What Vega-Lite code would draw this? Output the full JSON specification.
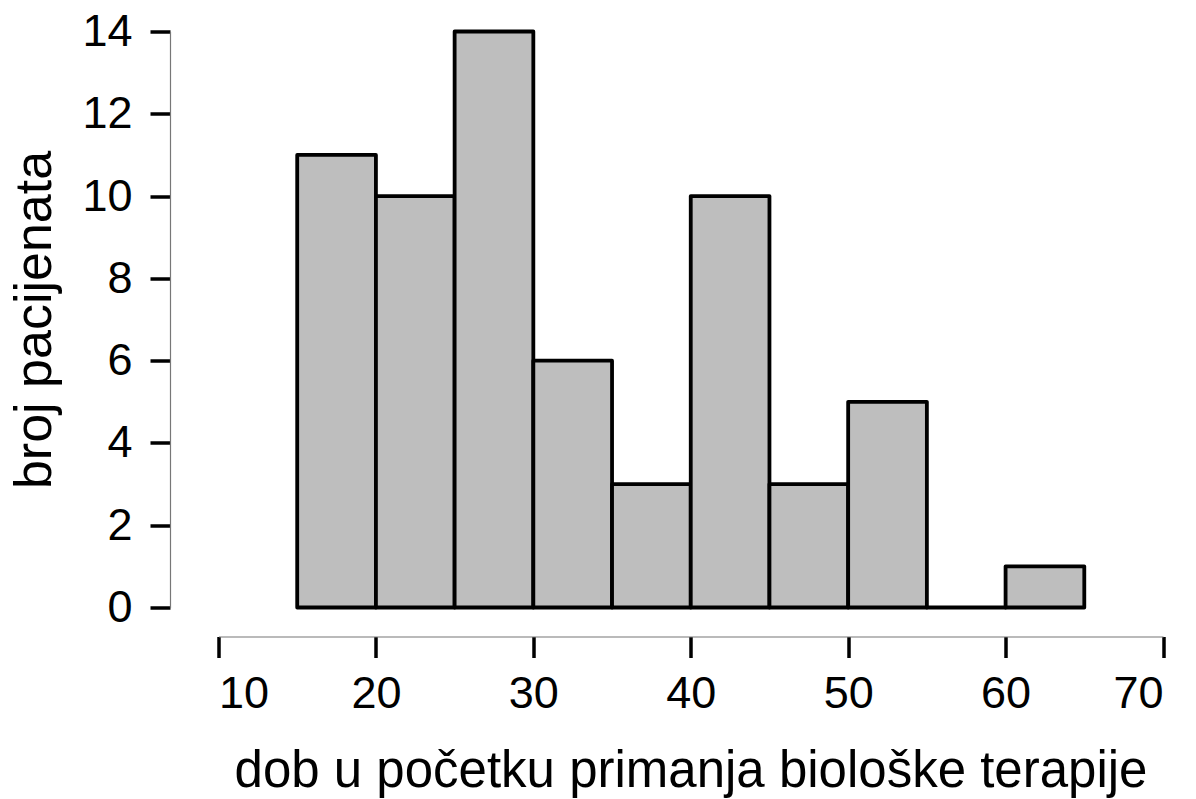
{
  "$schema": "https://vega.github.io/schema/vega-lite/v6.json",
  "autosize": {"type": "none"},
  "padding": {"left": 218.5, "top": 31.5, "right": 33, "bottom": 191.5},
  "width": 944.5,
  "height": 576,
  "background": "white",
  "config": {
    "view": {"stroke": null},
    "font": "Liberation Sans",
    "axis": {"grid": false}
  },
  "data": {
    "values": [
      {"start": 15, "end": 20, "count": 11},
      {"start": 20, "end": 25, "count": 10},
      {"start": 25, "end": 30, "count": 14},
      {"start": 30, "end": 35, "count": 6},
      {"start": 35, "end": 40, "count": 3},
      {"start": 40, "end": 45, "count": 10},
      {"start": 45, "end": 50, "count": 3},
      {"start": 50, "end": 55, "count": 5},
      {"start": 55, "end": 60, "count": 0},
      {"start": 60, "end": 65, "count": 1}
    ]
  },
  "mark": {"type": "rect", "fill": "#BEBEBE", "stroke": "black", "strokeWidth": 3.8, "strokeJoin": "round"},
  "encoding": {
    "x": {
      "field": "start",
      "type": "quantitative",
      "scale": {"domain": [10, 70], "nice": false, "zero": false},
      "axis": {
        "values": [10, 20, 30, 40, 50, 60, 70],
        "offset": 29,
        "tickSize": 21,
        "tickWidth": 3.5,
        "tickColor": "black",
        "domainColor": "#777777",
        "domainWidth": 1.2,
        "labelFontSize": 45,
        "labelColor": "black",
        "labelPadding": 14,
        "labelFont": "Liberation Sans",
        "title": "dob u početku primanja biološke terapije",
        "titleFont": "Liberation Sans",
        "titleFontSize": 51,
        "titleFontWeight": "normal",
        "titleColor": "black",
        "titleX": 472,
        "titleY": 150,
        "titleBaseline": "alphabetic",
        "titleAlign": "center"
      }
    },
    "x2": {"field": "end"},
    "y": {
      "field": "count",
      "type": "quantitative",
      "scale": {"domain": [0, 14], "nice": false},
      "axis": {
        "values": [0, 2, 4, 6, 8, 10, 12, 14],
        "offset": 48.5,
        "tickSize": 20,
        "tickWidth": 3.5,
        "tickColor": "black",
        "domainColor": "#777777",
        "domainWidth": 1.2,
        "labelFontSize": 45,
        "labelColor": "black",
        "labelPadding": 18,
        "labelFont": "Liberation Sans",
        "labelAngle": 0,
        "title": "broj pacijenata",
        "titleFont": "Liberation Sans",
        "titleFontSize": 52,
        "titleFontWeight": "normal",
        "titleColor": "black",
        "titleAngle": -90,
        "titleX": -120,
        "titleY": 288,
        "titleBaseline": "alphabetic",
        "titleAlign": "center"
      }
    },
    "y2": {"datum": 0}
  }
}
